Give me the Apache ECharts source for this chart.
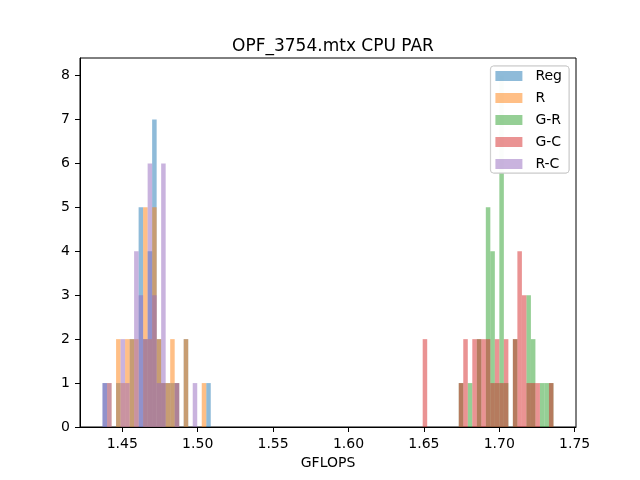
<!DOCTYPE html>
<html lang="en">
<head>
  <meta charset="UTF-8">
  <title>OPF_3754.mtx CPU PAR</title>
  <script src="https://cdn.jsdelivr.net/npm/echarts@6/dist/echarts.min.js"></script>
</head>
<body style="margin:0">
<div id="main" style="width:640px;height:480px;"></div>
<script>
  // all five runs share the same 100 bins (1.4369 .. 1.7359)
  var binLo = 1.4369;
  var binWidth = 0.0029902;

  var seriesNames = ['Reg', 'R', 'G-R', 'G-C', 'R-C'];
  var seriesColors = ['rgba(31,119,180,0.5)', 'rgba(255,127,14,0.5)', 'rgba(44,160,44,0.5)',
                      'rgba(214,39,40,0.5)', 'rgba(148,103,189,0.5)'];

  // counts per bin, first entry is bin leftStart
  var leftStart = 0;
  var regCounts = [1,0,0,1,0,0,2,0,5,2,4,7,2,1,1,1,1,0,2,0,0,0,0,1];
  var rCounts   = [0,1,0,2,1,2,2,2,0,5,2,5,2,1,1,2,1,0,2,0,0,0,1,0];
  var rcCounts  = [1,1,0,0,2,1,0,4,3,2,6,3,1,6,0,0,1,0,0,0,1,0,0,0];

  // first entry is bin rightStart
  var rightStart = 71;
  var grCounts  = [0,0,0,0,0,0,0,0,1,0,1,0,2,0,5,4,1,8,1,0,2,0,0,3,2,0,1,1,1];
  var gcCounts  = [2,0,0,0,0,0,0,0,1,2,0,2,2,2,2,1,2,1,2,0,2,4,3,1,1,1,0,0,1];

  var xTicks = [1.45, 1.50, 1.55, 1.60, 1.65, 1.70, 1.75];
  var yTicks = [0, 1, 2, 3, 4, 5, 6, 7, 8];

  function toBars(counts, start) {
    var out = [];
    for (var k = 0; k < counts.length; k++) {
      if (!counts[k]) continue;
      var x0 = binLo + (start + k) * binWidth;
      out.push([x0, x0 + binWidth, counts[k]]);
    }
    return out;
  }

  var allBars = [
    toBars(regCounts, leftStart),
    toBars(rCounts, leftStart),
    toBars(grCounts, rightStart),
    toBars(gcCounts, rightStart),
    toBars(rcCounts, leftStart)
  ];

  function renderBar(params, api) {
    var p0 = api.coord([api.value(0), api.value(2)]);
    var p1 = api.coord([api.value(1), 0]);
    return {
      type: 'rect',
      shape: { x: p0[0], y: p0[1], width: p1[0] - p0[0], height: p1[1] - p0[1] },
      style: api.style()
    };
  }

  var font = 'DejaVu Sans';
  var myChart = echarts.init(document.getElementById('main'));
  myChart.setOption({
    animation: false,
    textStyle: { fontFamily: font },
    title: {
      text: 'OPF_3754.mtx CPU PAR',
      left: 328,
      top: 33,
      textAlign: 'center',
      textStyle: { fontFamily: font, fontSize: 17, fontWeight: 'normal', color: '#000' }
    },
    // semi-opaque panel behind the legend, like matplotlib's framealpha
    graphic: [{
      type: 'rect',
      zlevel: 1,
      z: 0,
      silent: true,
      shape: { x: 491, y: 66, width: 78, height: 107, r: 3 },
      style: { fill: 'rgba(255,255,255,0.8)', stroke: '#cccccc', lineWidth: 1 }
    }],
    legend: {
      zlevel: 1,
      z: 5,
      orient: 'vertical',
      right: 71,
      top: 66,
      data: seriesNames,
      icon: 'rect',
      itemWidth: 27,
      itemHeight: 10,
      itemGap: 6,
      padding: [2, 7, 1, 5],
      backgroundColor: 'rgba(255,255,255,0.8)',
      borderColor: '#cccccc',
      borderWidth: 1,
      borderRadius: 3,
      selectedMode: false,
      textStyle: { fontFamily: font, fontSize: 14, lineHeight: 16, color: '#000', padding: [0, 0, 0, 8] }
    },
    grid: {
      left: 80, right: 64, top: 58, bottom: 53,
      show: true, borderColor: '#000', borderWidth: 1, backgroundColor: 'transparent'
    },
    xAxis: {
      type: 'value',
      min: 1.42195,
      max: 1.75087,
      name: 'GFLOPS',
      nameLocation: 'middle',
      nameGap: 29,
      nameTextStyle: { fontFamily: font, fontSize: 14, color: '#000' },
      axisLine: { lineStyle: { color: '#000', width: 1 } },
      axisTick: { customValues: xTicks, length: 5, lineStyle: { color: '#000' } },
      axisLabel: {
        customValues: xTicks,
        margin: 10,
        fontFamily: font, fontSize: 14, color: '#000',
        formatter: function (v) { return v.toFixed(2); }
      },
      splitLine: { show: false }
    },
    yAxis: {
      type: 'value',
      min: 0,
      max: 8.4,
      axisLine: { show: true, lineStyle: { color: '#000', width: 1 } },
      axisTick: { show: true, customValues: yTicks, length: 5, lineStyle: { color: '#000' } },
      axisLabel: { customValues: yTicks, margin: 10, fontFamily: font, fontSize: 14, color: '#000' },
      splitLine: { show: false }
    },
    series: seriesNames.map(function (name, i) {
      return {
        name: name,
        type: 'custom',
        renderItem: renderBar,
        itemStyle: { color: seriesColors[i] },
        encode: { x: [0, 1], y: 2 },
        data: allBars[i]
      };
    })
  });
</script>
</body>
</html>
